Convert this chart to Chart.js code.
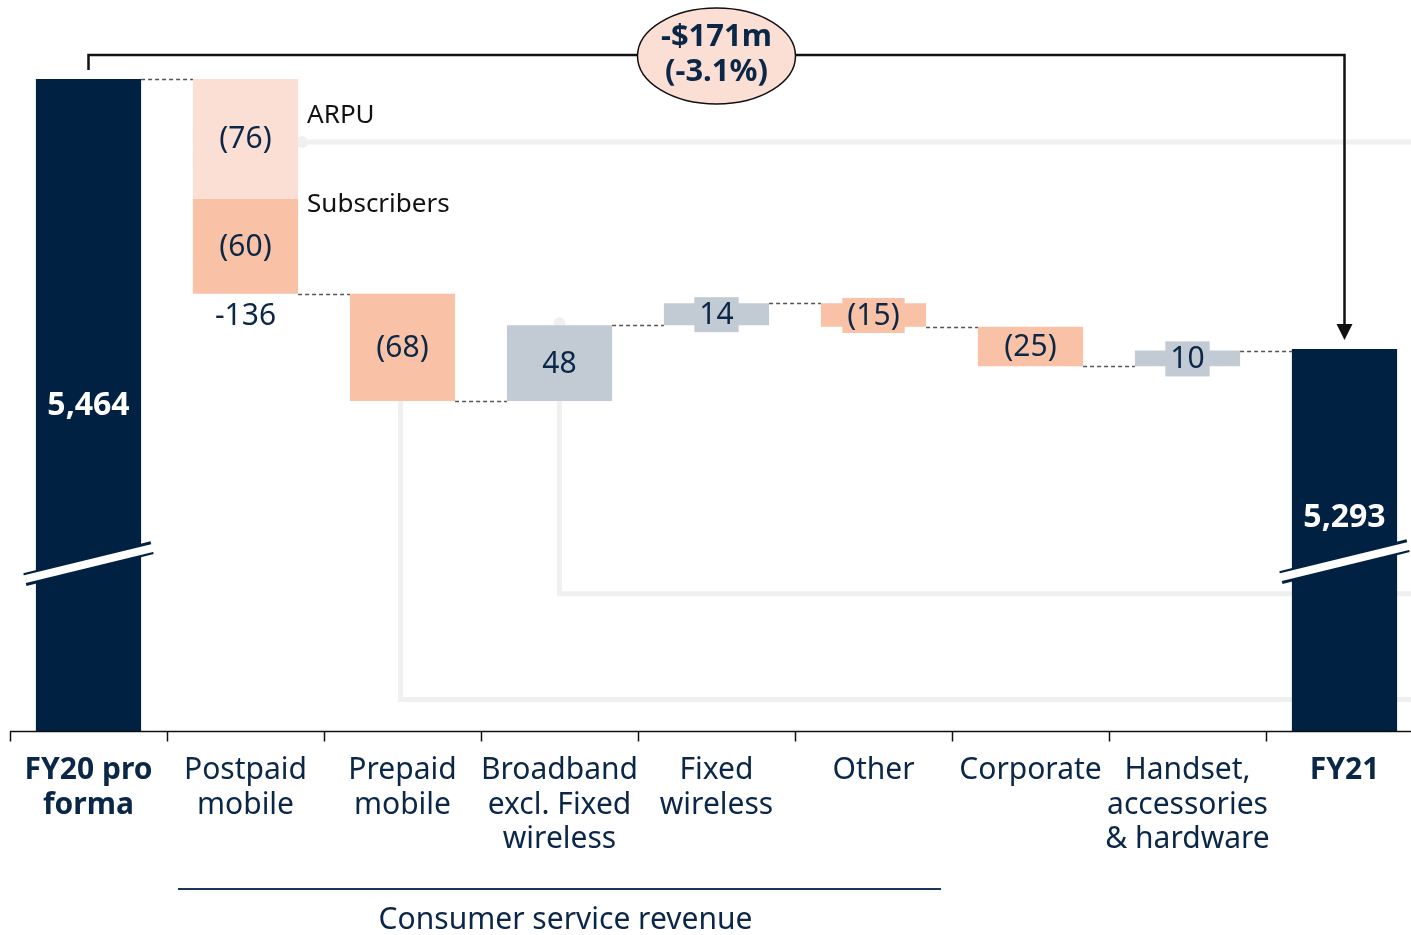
<!DOCTYPE html>
<html>
<head>
<meta charset="utf-8">
<script src="https://cdn.jsdelivr.net/npm/chart.js@4.4.1/dist/chart.umd.min.js"></script>
<style>
  html, body { margin: 0; padding: 0; background: #fff; overflow: hidden; }
  #wrap { width: 1425px; height: 935px; position: relative; }
</style>
</head>
<body>
<div id="wrap"><canvas id="chart"></canvas></div>
<script>
// chart data
const categories = [
    ['FY20 pro', 'forma'],
    ['Postpaid', 'mobile'],
    ['Prepaid', 'mobile'],
    ['Broadband', 'excl. Fixed', 'wireless'],
    ['Fixed', 'wireless'],
    ['Other'],
    ['Corporate'],
    ['Handset,', 'accessories', '& hardware'],
    ['FY21']
];
const openingTotal = 5464;
const closingTotal = 5293;
const postpaidArpu = -76;
const postpaidSubscribers = -60;
const movements = [null, -136, -68, 48, 14, -15, -25, 10, null];
const axisFloor = 5051;
const axisCeiling = 5514;
const breakLevel = 5157;
const guideLevels = [5424, 5138, 5071];
const changeText = ['-$171m', '(-3.1%)'];
const groupLabel = 'Consumer service revenue';
const groupFrom = 1;
const groupTo = 6;

const NAVY = '#012142';
const PEACH = '#f9c1a6';
const LIGHT_PEACH = '#fcdfd4';
const GREY = '#c2cbd3';
const TEXT = '#0b2748';
const FONT = '"Noto Sans", sans-serif';

// build waterfall ranges
const ranges = [];
const levels = [];
const colors = [];
let level = openingTotal;
ranges.push([axisFloor, openingTotal]);
levels.push(openingTotal);
colors.push(NAVY);
for (let i = 1; i < movements.length - 1; i++) {
    const next = level + movements[i];
    if (i === 1) {
        // postpaid: subscribers part here, ARPU part in its own dataset
        ranges.push([next, level + postpaidArpu]);
    } else {
        ranges.push([Math.min(level, next), Math.max(level, next)]);
    }
    colors.push(movements[i] < 0 ? PEACH : GREY);
    level = next;
    levels.push(level);
}
ranges.push([axisFloor, closingTotal]);
levels.push(closingTotal);
colors.push(NAVY);

const arpuRange = categories.map((c, i) => i === 1 ? [openingTotal + postpaidArpu, openingTotal] : null);

function fmtMove(v) {
    return v < 0 ? '(' + Math.abs(v) + ')' : String(v);
}

const decor = {
    id: 'decor',
    beforeDatasetsDraw(chart) {
        const ctx = chart.ctx;
        const x = chart.scales.x, y = chart.scales.y;
        const right = chart.width;
        const half = chart.getDatasetMeta(0).data[1].width / 2;
        ctx.save();
        ctx.strokeStyle = '#f0f0f0';
        ctx.fillStyle = '#f0f0f0';
        ctx.lineWidth = 5;
        // ARPU guide
        const y0 = y.getPixelForValue(guideLevels[0]);
        const x0 = x.getPixelForValue(1) + half + 4;
        ctx.beginPath(); ctx.moveTo(x0, y0); ctx.lineTo(right, y0); ctx.stroke();
        ctx.beginPath(); ctx.arc(x0, y0, 6, 0, Math.PI * 2); ctx.fill();
        // broadband guide
        const xb = x.getPixelForValue(3);
        const y1 = y.getPixelForValue(guideLevels[1]);
        ctx.beginPath(); ctx.moveTo(xb, y.getPixelForValue(ranges[3][1]));
        ctx.lineTo(xb, y1); ctx.lineTo(right, y1); ctx.stroke();
        ctx.beginPath(); ctx.arc(xb, y.getPixelForValue(ranges[3][1]) - 2, 6, 0, Math.PI * 2); ctx.fill();
        // prepaid guide
        const xp = x.getPixelForValue(2) - 2;
        const y2 = y.getPixelForValue(guideLevels[2]);
        ctx.beginPath(); ctx.moveTo(xp, y.getPixelForValue(ranges[2][0]));
        ctx.lineTo(xp, y2); ctx.lineTo(right, y2); ctx.stroke();
        ctx.restore();
    },
    afterDatasetsDraw(chart) {
        const ctx = chart.ctx;
        const x = chart.scales.x, y = chart.scales.y;
        const area = chart.chartArea;
        const bars = chart.getDatasetMeta(0).data;
        const half = bars[0].width / 2;
        const step = x.getPixelForValue(1) - x.getPixelForValue(0);
        ctx.save();

        // dashed connectors
        ctx.strokeStyle = '#555';
        ctx.lineWidth = 1.4;
        ctx.setLineDash([4, 3]);
        for (let i = 0; i < levels.length - 1; i++) {
            const yy = Math.round(y.getPixelForValue(levels[i])) + 0.5;
            ctx.beginPath();
            ctx.moveTo(x.getPixelForValue(i) + half, yy);
            ctx.lineTo(x.getPixelForValue(i + 1) - half, yy);
            ctx.stroke();
        }
        ctx.setLineDash([]);

        // axis break marks on total bars
        [0, categories.length - 1].forEach(i => {
            const cx = x.getPixelForValue(i);
            const cy = y.getPixelForValue(breakLevel) - (i === 0 ? 0 : 2);
            const dx = half + 11, dy = 16;
            ctx.lineCap = 'butt';
            ctx.strokeStyle = NAVY; ctx.lineWidth = 13;
            ctx.beginPath(); ctx.moveTo(cx - dx, cy + dy); ctx.lineTo(cx + dx, cy - dy); ctx.stroke();
            ctx.strokeStyle = '#fff'; ctx.lineWidth = 8;
            ctx.beginPath(); ctx.moveTo(cx - dx - 2, cy + dy); ctx.lineTo(cx + dx + 2, cy - dy); ctx.stroke();
        });

        // value labels
        ctx.textAlign = 'center';
        ctx.textBaseline = 'middle';
        function label(text, cx, cy, bg, color, bold) {
            ctx.font = (bold ? 'bold 32px ' : '30px ') + FONT;
            const w = ctx.measureText(text).width + 10;
            if (bg) { ctx.fillStyle = bg; ctx.fillRect(cx - w / 2, cy - 17, w, 35); }
            ctx.fillStyle = color;
            ctx.fillText(text, cx, cy + 1);
        }
        const midOf = r => (y.getPixelForValue(r[0]) + y.getPixelForValue(r[1])) / 2;
        label(openingTotal.toLocaleString('en-US'), x.getPixelForValue(0), midOf(ranges[0]), null, '#fff', true);
        label(closingTotal.toLocaleString('en-US'), x.getPixelForValue(8), midOf(ranges[8]) - 23, null, '#fff', true);
        label(fmtMove(postpaidArpu), x.getPixelForValue(1), midOf(arpuRange[1]), null, TEXT);
        label(fmtMove(postpaidSubscribers), x.getPixelForValue(1), midOf(ranges[1]), null, TEXT);
        label(String(movements[1]), x.getPixelForValue(1), y.getPixelForValue(ranges[1][0]) + 22, null, TEXT);
        for (let i = 2; i < categories.length - 1; i++) {
            label(fmtMove(movements[i]), x.getPixelForValue(i), midOf(ranges[i]), colors[i], TEXT);
        }

        // side labels for postpaid split
        ctx.textAlign = 'left';
        ctx.textBaseline = 'alphabetic';
        ctx.font = '26px ' + FONT;
        ctx.fillStyle = '#111';
        const sx = x.getPixelForValue(1) + half + 9;
        ctx.fillText('ARPU', sx, y.getPixelForValue(openingTotal) + 44);
        ctx.fillText('Subscribers', sx, y.getPixelForValue(openingTotal + postpaidArpu) + 13);

        // category axis
        const base = Math.round(area.bottom) + 0.5;
        ctx.strokeStyle = '#111';
        ctx.lineWidth = 1.5;
        ctx.beginPath(); ctx.moveTo(area.left, base); ctx.lineTo(chart.width, base); ctx.stroke();
        for (let i = 0; i < categories.length; i++) {
            const tx = Math.round(x.getPixelForValue(i) - step / 2) + 0.5;
            ctx.beginPath(); ctx.moveTo(tx, base); ctx.lineTo(tx, base + 10); ctx.stroke();
        }
        ctx.textAlign = 'center';
        ctx.textBaseline = 'middle';
        ctx.fillStyle = TEXT;
        categories.forEach((lines, i) => {
            const bold = i === 0 || i === categories.length - 1;
            ctx.font = (bold ? 'bold ' : '') + '30px ' + FONT;
            lines.forEach((t, k) => ctx.fillText(t, x.getPixelForValue(i), base + 39 + k * 34.5));
        });

        // group line and label
        const gx0 = x.getPixelForValue(groupFrom) - step / 2 + 11;
        const gx1 = x.getPixelForValue(groupTo) - step / 2 - 11;
        ctx.strokeStyle = '#1a3556';
        ctx.lineWidth = 1.8;
        ctx.beginPath(); ctx.moveTo(gx0, 889); ctx.lineTo(gx1, 889); ctx.stroke();
        ctx.font = '30px ' + FONT;
        ctx.fillText(groupLabel, (gx0 + gx1) / 2 + 6, 920);

        // total change bracket
        const ax = x.getPixelForValue(0), bx = x.getPixelForValue(categories.length - 1);
        const topY = y.getPixelForValue(openingTotal) - 9;
        const lineY = 55;
        const tipY = y.getPixelForValue(closingTotal) - 9;
        ctx.strokeStyle = '#111';
        ctx.fillStyle = '#111';
        ctx.lineWidth = 2.5;
        ctx.beginPath();
        ctx.moveTo(ax, topY); ctx.lineTo(ax, lineY); ctx.lineTo(bx, lineY); ctx.lineTo(bx, tipY - 14);
        ctx.stroke();
        ctx.beginPath();
        ctx.moveTo(bx - 8, tipY - 16); ctx.lineTo(bx + 8, tipY - 16); ctx.lineTo(bx, tipY); ctx.closePath();
        ctx.fill();

        const ex = (ax + bx) / 2;
        ctx.beginPath();
        ctx.ellipse(ex, lineY + 1, 79, 48, 0, 0, Math.PI * 2);
        ctx.fillStyle = LIGHT_PEACH;
        ctx.fill();
        ctx.lineWidth = 1.5;
        ctx.stroke();
        ctx.fillStyle = TEXT;
        ctx.font = 'bold 31px ' + FONT;
        ctx.fillText(changeText[0], ex, lineY - 18);
        ctx.fillText(changeText[1], ex, lineY + 17);

        ctx.restore();
    }
};

new Chart(document.getElementById('chart'), {
    type: 'bar',
    data: {
        labels: categories,
        datasets: [
            {
                label: 'Movement',
                data: ranges,
                backgroundColor: colors,
                grouped: false,
                barPercentage: 0.67,
                categoryPercentage: 1
            },
            {
                label: 'ARPU',
                data: arpuRange,
                backgroundColor: LIGHT_PEACH,
                grouped: false,
                barPercentage: 0.67,
                categoryPercentage: 1
            }
        ]
    },
    options: {
        responsive: true,
        maintainAspectRatio: false,
        animation: false,
        layout: { padding: { left: 10, right: 2, top: 0, bottom: 204 } },
        plugins: { legend: { display: false }, tooltip: { enabled: false } },
        scales: {
            x: { display: false },
            y: { display: false, min: axisFloor, max: axisCeiling }
        }
    },
    plugins: [decor]
});
</script>
</body>
</html>
